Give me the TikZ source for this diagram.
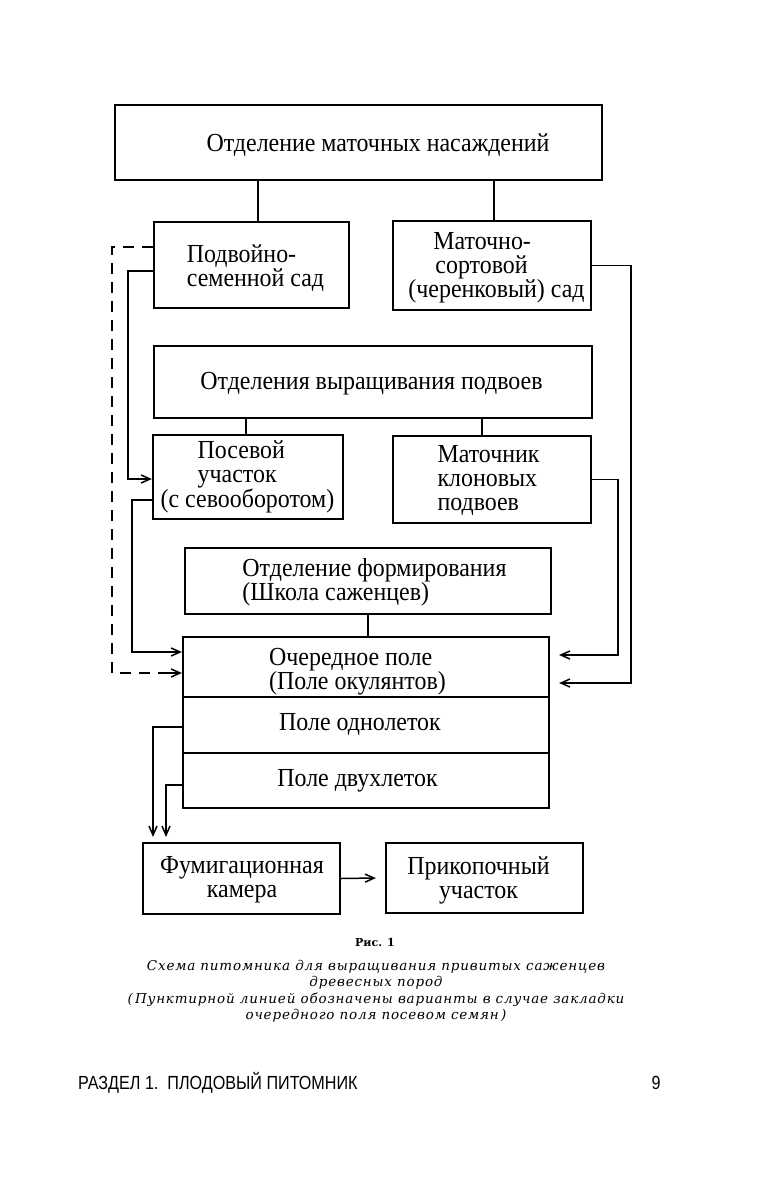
\documentclass[tikz,border=0pt]{standalone}
\usepackage{fontspec}
\setmainfont[FakeStretch=0.92]{Liberation Serif}
\newfontfamily\capfont[LetterSpace=6]{DejaVu Serif}
\newfontfamily\capbold{DejaVu Serif}
\newfontfamily\footfont[FakeStretch=0.85]{Liberation Sans}
\usetikzlibrary{arrows.meta}
\begin{document}
\begin{tikzpicture}[x=1pt,y=-1pt,
  box/.style={draw,line width=2.2pt,inner sep=0pt},
  txt/.style={inner sep=0pt,font=\fontsize{26}{24}\selectfont},
  conn/.style={line width=1.5pt},
  arr/.style={line width=1.5pt,-{Straight Barb[length=9pt,width=8pt,line width=1.5pt]}},
  dsh/.style={line width=1.5pt,dash pattern=on 11pt off 8pt},
  lbl/.style={inner sep=0pt}]
\useasboundingbox[fill=white] (0,0) rectangle (756,1182);
% boxes
\node[box,minimum width=487pt,minimum height=75pt] (top) at (358.5,142.5) {};
\node[box,minimum width=195pt,minimum height=86pt] (pods) at (251.5,265) {};
\node[box,minimum width=198pt,minimum height=89pt] (mats) at (492,265.5) {};
\node[box,minimum width=438pt,minimum height=72pt] (vyr) at (373,382) {};
\node[box,minimum width=190pt,minimum height=84pt] (pos) at (248,477) {};
\node[box,minimum width=198pt,minimum height=87pt] (mkl) at (492,479.5) {};
\node[box,minimum width=366pt,minimum height=66pt] (form) at (368,581) {};
\node[box,minimum width=366pt,minimum height=60pt] (och) at (366,667) {};
\node[box,minimum width=366pt,minimum height=56pt] (odn) at (366,725) {};
\node[box,minimum width=366pt,minimum height=55pt] (dvu) at (366,780.5) {};
\node[box,minimum width=197pt,minimum height=71pt] (fum) at (241.5,878.5) {};
\node[box,minimum width=197pt,minimum height=70pt] (prk) at (484.5,878) {};
% texts
\node[txt] (topT) at (378,145) {Отделение маточных насаждений};
\node[txt,align=left] (podsT) at (255.5,268) {Подвойно-\\семенной сад};
\node[txt,align=left] (matsT) at (496.5,268) {\hspace*{25pt}Маточно-\\\hspace*{27pt}сортовой\\(черенковый) сад};
\node[txt] (vyrT) at (371.5,383.5) {Отделения выращивания подвоев};
\node[txt,align=left] (posT) at (247.5,477) {\hspace*{37pt}Посевой\\\hspace*{37pt}участок\\(с севооборотом)};
\node[txt,align=left] (mklT) at (488.5,480) {Маточник\\клоновых\\подвоев};
\node[txt,align=left] (formT) at (374.5,582) {Отделение формирования\\(Школа саженцев)};
\node[txt,align=left] (ochT) at (357.5,671.5) {Очередное поле\\(Поле окулянтов)};
\node[txt] (odnT) at (360,724) {Поле однолеток};
\node[txt] (dvuT) at (357.5,780.5) {Поле двухлеток};
\node[txt,align=center] (fumT) at (242,880) {Фумигационная\\камера};
\node[txt,align=center] (prkT) at (478.5,880) {Прикопочный\\участок};
% vertical tree connectors
\draw[conn] ([xshift=6.5pt]pods.north) -- ([xshift=6.5pt]pods.north |- top.south);
\draw[conn] ([xshift=2pt]mats.north) -- ([xshift=2pt]mats.north |- top.south);
\draw[conn] ([xshift=-2pt]pos.north) -- ([xshift=-2pt]pos.north |- vyr.south);
\draw[conn] ([xshift=-10pt]mkl.north) -- ([xshift=-10pt]mkl.north |- vyr.south);
\draw[conn] (form.south) -- (form.south |- och.north);
% left connectors
\draw[arr] ([yshift=-6pt]pods.west) -- ++(-25,0) |- ([yshift=-2pt]pos.west);
\draw[arr] ([yshift=-23pt]pos.west) -- ++(-20,0) |- ([yshift=15pt]och.west);
\draw[dsh] ([yshift=18pt]pods.west) -- ++(-41,0) |- ([xshift=-22pt,yshift=-6pt]och.west) coordinate (dd);
\draw[arr] (dd) -- ([yshift=-6pt]och.west);
% right connectors
\draw[arr] (mats.east) -- ++(39,0) |- ([xshift=9pt,yshift=-16pt]och.east);
\draw[arr] (mkl.east) -- ++(26,0) |- ([xshift=9pt,yshift=12pt]och.east);
% bottom connectors
\draw[arr] ([yshift=-2pt]odn.west) -| ([xshift=-88.5pt,yshift=5pt]fum.north);
\draw[arr] ([yshift=-4.5pt]dvu.west) -| ([xshift=-75.5pt,yshift=5pt]fum.north);
\draw[arr] (fum.east) -- ([xshift=-9pt]prk.west);
% caption
\node[lbl,font=\capbold\bfseries\fontsize{11}{13}\selectfont] (fig) at (375,942) {Рис. 1};
\node[lbl,font=\capfont\itshape\fontsize{13.5}{16.5}\selectfont,align=center,anchor=north] (cap) at (376,960)
  {Схема питомника для выращивания привитых саженцев\\древесных пород\\(\,Пунктирной линией обозначены варианты в случае закладки\\очередного поля посевом семян\,)};
% footer
\node[lbl,font=\footfont\fontsize{19}{21}\selectfont,anchor=west] (foot) at (78,1083) {РАЗДЕЛ 1.\ \ ПЛОДОВЫЙ ПИТОМНИК};
\node[lbl,font=\footfont\fontsize{19}{21}\selectfont] (pg) at (656,1083) {9};
\end{tikzpicture}
\end{document}
